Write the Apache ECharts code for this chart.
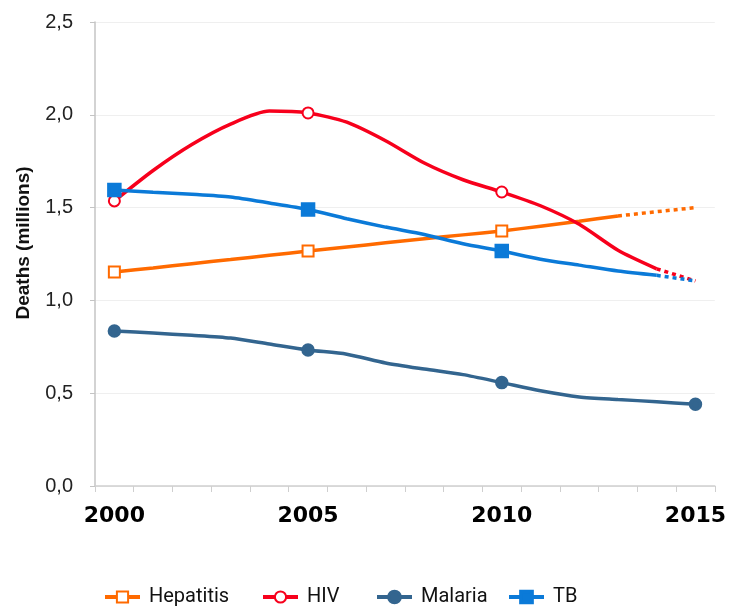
<!DOCTYPE html>
<html><head><meta charset="utf-8">
<script src="https://cdn.jsdelivr.net/npm/echarts@6/dist/echarts.min.js"></script>
<style>html,body{margin:0;padding:0;background:#fff}#c{width:729px;height:606px}</style>
</head><body><div id="c"></div>
<script>
const years = ['2000','2001','2002','2003','2004','2005','2006','2007','2008','2009','2010','2011','2012','2013','2014','2015'];
const hepatitis = [1.153,1.175,1.198,1.22,1.243,1.266,1.288,1.31,1.332,1.353,1.374,1.40,1.427,1.455,1.478,1.50];
const hiv = [1.536,1.70,1.84,1.95,2.02,2.01,1.96,1.86,1.74,1.65,1.584,1.51,1.41,1.27,1.17,1.105];
const malaria = [0.835,0.824,0.812,0.797,0.765,0.733,0.71,0.663,0.63,0.60,0.557,0.513,0.48,0.466,0.454,0.44];
const tb = [1.595,1.583,1.572,1.557,1.525,1.49,1.44,1.395,1.355,1.305,1.266,1.222,1.19,1.158,1.135,1.105];
const markerIdx = [0,5,10,15];
// last index of solid (actual) part
const solidEnd = {Hepatitis:13, HIV:14, Malaria:15, TB:14};

const C = {Hepatitis:'#ff6a00', HIV:'#f7001c', Malaria:'#33658f', TB:'#0b7ad8'};
const SYM = {Hepatitis:'emptyRect', HIV:'emptyCircle', Malaria:'circle', TB:'rect'};
const SIZE = {Hepatitis:11, HIV:11, Malaria:10, TB:11};
const DATA = {Hepatitis:hepatitis, HIV:hiv, Malaria:malaria, TB:tb};
const names = ['Hepatitis','HIV','Malaria','TB'];

const series = [];
names.forEach(n => {
  const e = solidEnd[n];
  series.push({
    name:n, type:'line', smooth:0.25, z:3,
    symbol: SYM[n], symbolSize: SIZE[n], showAllSymbol:true,
    itemStyle:{color:C[n], borderColor:C[n], borderWidth:3.5},
    lineStyle:{color:C[n], width:3.5},
    emphasis:{disabled:true},
    data: DATA[n].map((v,i)=> i>e ? null : (markerIdx.includes(i)
      ? {value:v, itemStyle:{borderWidth:3.5, borderColor:C[n]}}
      : {value:v, symbol:'none'}))
  });
  if (e < 15) {
    series.push({
      name:n+' (proj)', type:'line', z:2, symbol:'none', silent:true,
      lineStyle:{color:C[n], width:3.5, type:[4,4]},
      emphasis:{disabled:true},
      data: DATA[n].map((v,i)=> i<e ? null : v)
    });
  }
});

const legendLeft = [98, 256, 370, 502];
const legends = names.map((n,i)=>({
  data:[n], left:legendLeft[i], top:582, itemWidth:35, itemHeight:14, itemGap:8,
  lineStyle:{width:4},
  itemStyle:{borderWidth:3.5},
  textStyle:{fontFamily:'Roboto', fontSize:20, color:'#111', padding:[0,0,0,4]}
}));

const chart = echarts.init(document.getElementById('c'), null, {renderer:'canvas'});
chart.setOption({
  animation:false,
  backgroundColor:'#fff',
  grid:{left:95, right:12, top:22, bottom:120, containLabel:false},
  legend: legends,
  xAxis:{
    type:'category', data:years, boundaryGap:true,
    axisLine:{lineStyle:{color:'#cfcfcf', width:1.5}},
    axisTick:{show:true, interval:0, length:6, lineStyle:{color:'#cfcfcf'}},
    axisLabel:{interval:4, margin:19, fontFamily:'DejaVu Sans', fontWeight:'bold', fontSize:22, color:'#000'},
    splitLine:{show:false}
  },
  yAxis:{
    type:'value', min:0, max:2.5, interval:0.5,
    name:'Deaths (millions)', nameLocation:'middle', nameGap:62,
    nameTextStyle:{fontFamily:'Liberation Sans', fontWeight:'bold', fontSize:19, color:'#111', padding:[0,0,0,22]},
    axisLine:{show:true, lineStyle:{color:'#c4c4c4', width:1.5}},
    axisTick:{show:true, length:5, lineStyle:{color:'#c4c4c4'}},
    axisLabel:{margin:22, fontFamily:'Liberation Sans', fontSize:20, color:'#222',
      formatter:v=>v.toFixed(1).replace('.',',')},
    splitLine:{lineStyle:{color:'#efefef', width:1}}
  },
  series: series
});
</script></body></html>
